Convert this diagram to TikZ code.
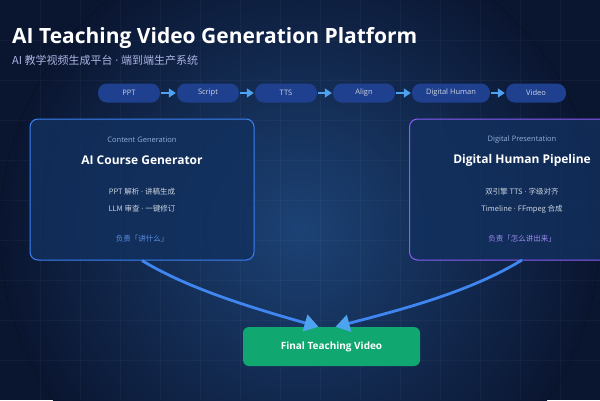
\documentclass[tikz,border=0pt]{standalone}
\usepackage{fontspec}
\setmainfont{Open Sans}
\newfontfamily\cjk{Noto Sans CJK SC}
\usetikzlibrary{arrows.meta, positioning}
\definecolor{bgDark}{HTML}{0A1530}
\definecolor{bgGlow}{HTML}{1C4275}
\definecolor{pillFill}{HTML}{1F3F8F}
\definecolor{pillArrow}{HTML}{4DA3F0}
\definecolor{boxFill}{HTML}{12305E}
\definecolor{boxBlue}{HTML}{3B82F6}
\definecolor{boxPurple}{HTML}{8B5CF6}
\definecolor{capText}{HTML}{93B0DA}
\definecolor{bodyText}{HTML}{CBD5E1}
\definecolor{noteBlue}{HTML}{5B8FE8}
\definecolor{noteViolet}{HTML}{9D8CF0}
\definecolor{finalGreen}{HTML}{10A870}
\definecolor{curveBlue}{HTML}{3F86F0}
\newcommand{\mdot}{{\rmfamily\ ·\ }}
\tikzset{
  pPill/.style={rectangle, rounded corners=9pt, minimum width=62pt, minimum height=19pt, fill=pillFill, text=bodyText, font=\fontsize{7.5}{9}\selectfont, inner sep=0pt},
  pArrow/.style={-{Triangle[length=7pt,width=9pt]}, pillArrow, line width=1.5pt, shorten <=1pt, shorten >=1pt},
  pBox/.style={rectangle, rounded corners=8pt, minimum width=224pt, minimum height=141pt, fill=boxFill, fill opacity=0.8, text opacity=1, line width=1pt},
  pCap/.style={text=capText, font=\fontsize{7.5}{9}\selectfont},
  pHead/.style={text=white, font=\bfseries\fontsize{12}{14}\selectfont},
  pBody/.style={text=bodyText, font=\cjk\fontsize{7.5}{9}\selectfont},
  pCurve/.style={curveBlue, line width=2.8pt, -{Triangle[length=14pt,width=17pt,color=pillArrow]}}
}
\begin{document}
\begin{tikzpicture}[x=1pt, y=-1pt]
  \useasboundingbox (0,0) rectangle (600,400);
  % background
  \fill[bgDark] (0,0) rectangle (600,400);
  \fill[inner color=bgGlow, outer color=bgDark] (300,230) circle[radius=300];
  \foreach \g in {40,80,...,560} \draw[white, opacity=0.03] (\g,0) -- (\g,400);
  \foreach \g in {40,80,...,360} \draw[white, opacity=0.03] (0,\g) -- (600,\g);
  % title
  \node (title) [anchor=base west, text=white, font=\bfseries\fontsize{21}{24}\selectfont, inner sep=0pt] at (12,43) {AI Teaching Video Generation Platform};
  \node (subtitle) [anchor=base west, text=bodyText!85!blue, font=\cjk\fontsize{11}{13}\selectfont, inner sep=0pt] at (12,64) {AI 教学视频生成平台\mdot{}端到端生产系统};
  % pipeline
  \node (ppt) [pPill] at (129,93) {PPT};
  \node (script) [pPill] at (208,93) {Script};
  \node (tts) [pPill] at (286,93) {TTS};
  \node (align) [pPill] at (364,93) {Align};
  \node (human) [pPill, minimum width=78pt] at (451,93) {Digital Human};
  \node (video) [pPill, minimum width=60pt] at (536,93) {Video};
  \foreach \a/\b in {ppt/script, script/tts, tts/align, align/human, human/video}
    \draw [pArrow] (\a) -- (\b);
  % boxes
  \node (course) [pBox, draw=boxBlue] at (142,189.5) {};
  \node (digital) [pBox, draw=boxPurple, anchor=west] at (409,189.5) {};
  \node [pCap] at (142,140) {Content Generation};
  \node [pHead] at (142,160) {AI Course Generator};
  \node [pBody] at (142,192) {PPT 解析\mdot{}讲稿生成};
  \node [pBody] at (142,209) {LLM 审查\mdot{}一键修订};
  \node [pBody, text=noteBlue] at (142,239) {负责「讲什么」};
  \node [pCap] at (522,140) {Digital Presentation};
  \node [pHead] at (522,160) {Digital Human Pipeline};
  \node [pBody] at (522,192) {双引擎 TTS\mdot{}字级对齐};
  \node [pBody] at (522,209) {Timeline\mdot{}FFmpeg 合成};
  \node [pBody, text=noteViolet] at (522,239) {负责「怎么讲出来」};
  % final
  \node (final) [rectangle, rounded corners=6pt, minimum width=177pt, minimum height=39pt, fill=finalGreen, text=white, font=\bfseries\fontsize{10}{12}\selectfont] at (331.5,346.5) {Final Teaching Video};
  \coordinate (outR) at (522,260);
  \coordinate (inL) at ([xshift=-13pt]final.north);
  \coordinate (inR) at ([xshift=4pt]final.north);
  \draw [pCurve] (course.south) .. controls (190,290) and (260,310) .. (inL);
  \draw [pCurve] (outR) .. controls (470,292) and (400,310) .. (inR);
\end{tikzpicture}
\end{document}
